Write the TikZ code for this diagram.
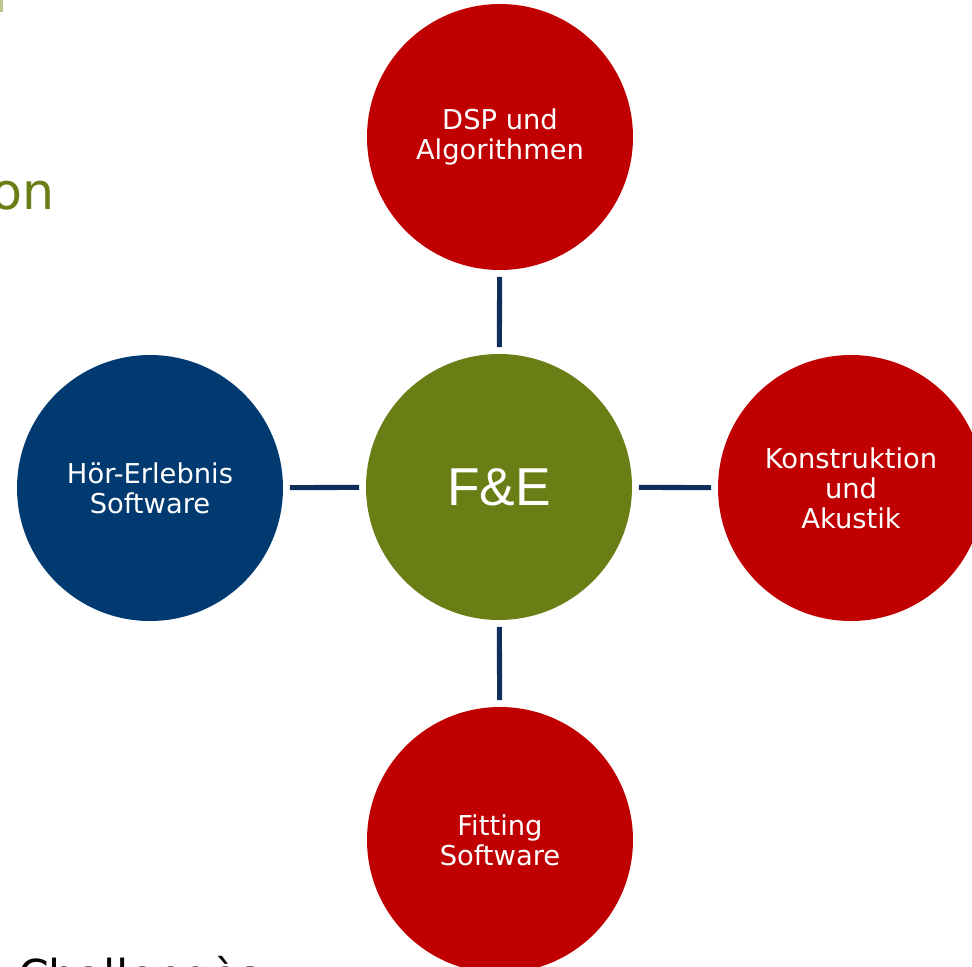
\documentclass[tikz,border=0pt]{standalone}
\usepackage{fontspec}
\setmainfont{DejaVu Sans}
\newfontfamily\arialf{Liberation Sans}
\definecolor{dred}{HTML}{C00000}
\definecolor{dgreen}{HTML}{6A7E16}
\definecolor{dblue}{HTML}{003A70}
\definecolor{navy}{HTML}{0E2E5C}
\definecolor{lgreen}{HTML}{B8C890}
\begin{document}
\begin{tikzpicture}[x=0.75pt,y=-0.75pt,
  bubble/.style={circle,minimum size=266*0.75pt,inner sep=0pt,text=white,align=center,
    font=\fontsize{20.5pt}{22.5pt}\selectfont},
  link/.style={draw=navy,line width=3.8pt,shorten <=5pt,shorten >=5pt}]
\useasboundingbox (0,0) rectangle (972,967);
\begin{scope}
\clip (0,0) rectangle (972,967);
\fill[lgreen] (0,0) rectangle (2.5,12);
\node[anchor=base east,text=dgreen,inner sep=0pt,font=\fontsize{38pt}{40pt}\selectfont] (on) at (55,209) {on};
\node[anchor=north west,inner sep=0pt,text=black,font=\fontsize{33pt}{40pt}\selectfont] (ch) at (18,956) {Challengès};
\node[bubble,fill=dgreen,font=\arialf\fontsize{40pt}{44pt}\selectfont] (fe) at (499,487) {F\&E};
\node[bubble,fill=dred] (dsp) at (500,137) {DSP und\\Algorithmen};
\node[bubble,fill=dblue] (hoer) at (150,488) {Hör-Erlebnis\\Software};
\node[bubble,fill=dred] (kon) at (851,488) {Konstruktion\\und\\Akustik};
\node[bubble,fill=dred] (fit) at (500,840) {Fitting\\Software};
\draw[link] (dsp) -- (fe);
\draw[link] (fe) -- (fit);
\draw[link] (hoer) -- (fe);
\draw[link] (fe) -- (kon);
\end{scope}
\end{tikzpicture}
\end{document}
